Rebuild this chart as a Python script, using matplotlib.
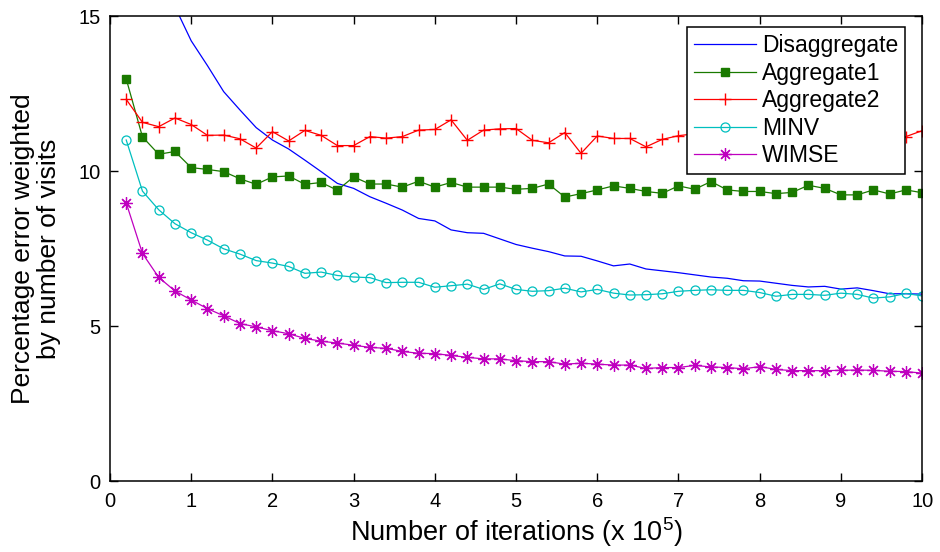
import matplotlib
matplotlib.use("Agg")
import matplotlib.pyplot as plt

plt.rcParams['font.family'] = ['Liberation Sans', 'DejaVu Sans']
plt.rcParams['mathtext.default'] = 'regular'

iterations = [0.2, 0.4, 0.6, 0.8, 1.0, 1.2, 1.4, 1.6, 1.8, 2.0,
              2.2, 2.4, 2.6, 2.8, 3.0, 3.2, 3.4, 3.6, 3.8, 4.0,
              4.2, 4.4, 4.6, 4.8, 5.0, 5.2, 5.4, 5.6, 5.8, 6.0,
              6.2, 6.4, 6.6, 6.8, 7.0, 7.2, 7.4, 7.6, 7.8, 8.0,
              8.2, 8.4, 8.6, 8.8, 9.0, 9.2, 9.4, 9.6, 9.8, 10.0]

disaggregate = [22.0, 19.0, 16.8, 15.3, 14.2, 13.4, 12.56, 11.97, 11.4, 11.0,
                10.71, 10.35, 9.98, 9.6, 9.44, 9.17, 8.96, 8.74, 8.47, 8.39,
                8.10, 8.01, 7.99, 7.81, 7.63, 7.51, 7.40, 7.26, 7.25, 7.10,
                6.94, 7.00, 6.84, 6.78, 6.72, 6.65, 6.58, 6.54, 6.46, 6.45,
                6.38, 6.31, 6.26, 6.28, 6.19, 6.23, 6.14, 6.04, 6.04, 6.03]

aggregate1 = [12.97, 11.10, 10.54, 10.63, 10.11, 10.05, 9.98, 9.75, 9.57, 9.81,
              9.84, 9.57, 9.63, 9.38, 9.81, 9.58, 9.58, 9.48, 9.67, 9.48,
              9.63, 9.48, 9.48, 9.48, 9.41, 9.44, 9.58, 9.16, 9.27, 9.39,
              9.52, 9.44, 9.34, 9.28, 9.52, 9.41, 9.66, 9.39, 9.34, 9.34,
              9.27, 9.31, 9.54, 9.44, 9.23, 9.23, 9.39, 9.26, 9.39, 9.30]

aggregate2 = [12.31, 11.57, 11.43, 11.71, 11.50, 11.15, 11.16, 11.04, 10.74, 11.27,
              10.97, 11.31, 11.15, 10.82, 10.82, 11.11, 11.06, 11.11, 11.32, 11.34,
              11.65, 10.99, 11.32, 11.36, 11.37, 10.99, 10.91, 11.24, 10.57, 11.13,
              11.05, 11.05, 10.78, 11.02, 11.14, 11.20, 11.05, 11.15, 11.00, 11.20,
              11.10, 11.00, 11.25, 11.10, 11.05, 11.20, 10.95, 11.00, 11.11, 11.30]

minv = [11.00, 9.35, 8.75, 8.30, 8.01, 7.77, 7.49, 7.32, 7.11, 7.03,
        6.92, 6.70, 6.74, 6.63, 6.58, 6.56, 6.40, 6.41, 6.41, 6.25,
        6.30, 6.35, 6.18, 6.36, 6.18, 6.12, 6.14, 6.22, 6.10, 6.18,
        6.06, 6.00, 6.01, 6.04, 6.12, 6.15, 6.17, 6.15, 6.15, 6.08,
        5.96, 6.02, 6.02, 5.99, 6.06, 6.02, 5.90, 5.94, 6.05, 5.97]

wimse = [8.97, 7.34, 6.57, 6.13, 5.84, 5.56, 5.33, 5.08, 4.97, 4.85,
         4.75, 4.60, 4.51, 4.45, 4.38, 4.31, 4.28, 4.18, 4.12, 4.11,
         4.05, 3.99, 3.94, 3.94, 3.88, 3.85, 3.85, 3.77, 3.80, 3.77,
         3.74, 3.74, 3.63, 3.66, 3.66, 3.73, 3.68, 3.66, 3.62, 3.69,
         3.60, 3.56, 3.56, 3.56, 3.57, 3.58, 3.57, 3.54, 3.53, 3.48]

x_ticks = [0, 1, 2, 3, 4, 5, 6, 7, 8, 9, 10]
y_ticks = [0, 5, 10, 15]

fig = plt.figure(figsize=(9.4, 5.52), dpi=100)
ax = fig.add_axes([0.117, 0.1286, 0.864, 0.8424])

ax.plot(iterations, disaggregate, color='#0000ff', lw=0.9, label='Disaggregate')
ax.plot(iterations, aggregate1, color='#1a7a00', lw=0.9, marker='s', ms=5.5,
        mfc='#1a7a00', mec='#1a7a00', label='Aggregate1')
ax.plot(iterations, aggregate2, color='#ff0000', lw=0.9, marker='+', ms=9,
        mew=1.0, label='Aggregate2')
ax.plot(iterations, minv, color='#00bfbf', lw=0.9, marker='o', ms=6.5,
        mfc='none', mew=0.9, label='MINV')
ax.plot(iterations, wimse, color='#bf00bf', lw=0.9, marker=(8, 2, 0), ms=9,
        mew=0.9, label='WIMSE')

ax.set_xlim(0, 10)
ax.set_ylim(0, 15)
ax.set_xticks(x_ticks)
ax.set_yticks(y_ticks)
ax.tick_params(direction='in', length=6, width=1, top=True, right=True,
               labelsize=14.5)
ax.tick_params(axis='x', pad=8)
ax.tick_params(axis='y', pad=7)
for s in ax.spines.values():
    s.set_linewidth(1.1)

ax.set_xlabel('Number of iterations (x 10$^5$)', fontsize=19.5, labelpad=3)
ax.set_ylabel('Percentage error weighted\nby number of visits', fontsize=19,
              linespacing=1.1, labelpad=12)

leg = ax.legend(loc='upper right', bbox_to_anchor=(0.979, 0.976),
                borderaxespad=0, fancybox=False, framealpha=1,
                edgecolor='black', fontsize=16.5, numpoints=1,
                handlelength=2.7, labelspacing=0.2, borderpad=0.3,
                handletextpad=0.25)
leg.get_frame().set_linewidth(1.1)

fig.savefig('out.png', dpi=100)
